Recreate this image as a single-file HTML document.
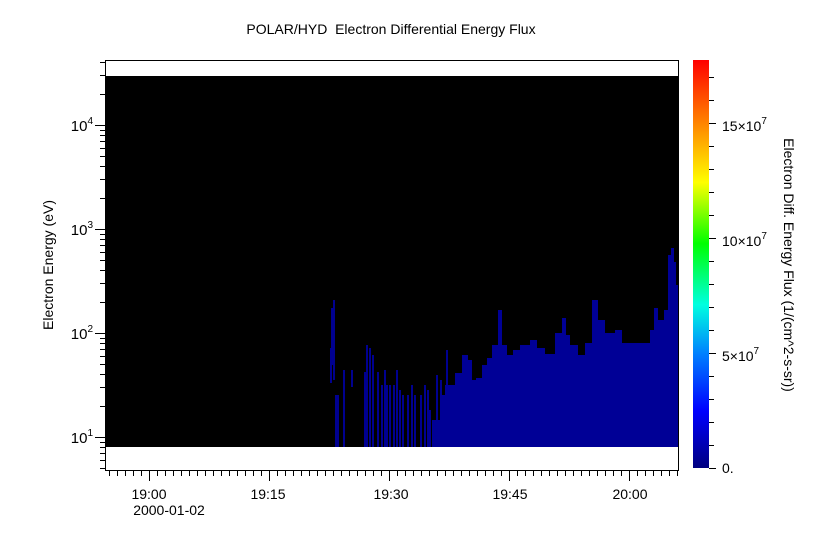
<!DOCTYPE html>
<html><head><meta charset="utf-8"><style>
html,body{margin:0;padding:0;background:#fff;}
svg{display:block;font-family:"Liberation Sans",sans-serif;}
</style></head><body>
<svg id="s" width="828" height="544" xmlns="http://www.w3.org/2000/svg">
<defs>
<linearGradient id="cb" x1="0" y1="1" x2="0" y2="0">
<stop offset="0" stop-color="#000080"/>
<stop offset="0.14" stop-color="#0000ff"/>
<stop offset="0.28" stop-color="#0080ff"/>
<stop offset="0.4" stop-color="#00ffe0"/>
<stop offset="0.55" stop-color="#00ff00"/>
<stop offset="0.7" stop-color="#ffff00"/>
<stop offset="0.85" stop-color="#ff8000"/>
<stop offset="1" stop-color="#ff0000"/>
</linearGradient>
</defs>
<text x="391" y="34" font-size="14" text-anchor="middle">POLAR/HYD&#160; Electron Differential Energy Flux</text>
<rect x="105" y="76" width="573" height="371" fill="#000"/>
<g id="bars" fill="#000090"></g>
<path fill="#000096" d="M432,447 L432,420 L440,420 L440,395 L445,395 L445,385 L455,385 L455,373 L462,373 L462,355 L468,355 L468,360 L472,360 L472,380 L476,380 L476,378 L482,378 L482,365 L487,365 L487,358 L492,358 L492,345 L498,345 L498,310 L502,310 L502,345 L507,345 L507,355 L513,355 L513,350 L520,350 L520,345 L530,345 L530,340 L537,340 L537,348 L545,348 L545,354 L555,354 L555,333 L562,333 L562,318 L566,318 L566,335 L570,335 L570,345 L578,345 L578,355 L585,355 L585,343 L592,343 L592,300 L598,300 L598,320 L605,320 L605,333 L615,333 L615,330 L622,330 L622,343 L650,343 L650,330 L654,330 L654,308 L658,308 L658,320 L664,320 L664,310 L668,310 L668,255 L671,255 L671,248 L674,248 L674,262 L676,262 L676,285 L678,285 L678,447 Z"/>
<g id="ax" stroke="#000" fill="none" stroke-width="1"></g>
<rect x="105.5" y="60.5" width="573" height="410" fill="none" stroke="#000"/>
<text x="149" y="499" font-size="14" text-anchor="middle">19:00</text>
<text x="268" y="499" font-size="14" text-anchor="middle">19:15</text>
<text x="391" y="499" font-size="14" text-anchor="middle">19:30</text>
<text x="510" y="499" font-size="14" text-anchor="middle">19:45</text>
<text x="630" y="499" font-size="14" text-anchor="middle">20:00</text>
<text x="169" y="515" font-size="14" text-anchor="middle">2000-01-02</text>
<g font-size="15" text-anchor="end">
<text x="93" y="131">10<tspan font-size="10" dy="-7">4</tspan></text>
<text x="93" y="235">10<tspan font-size="10" dy="-7">3</tspan></text>
<text x="93" y="339">10<tspan font-size="10" dy="-7">2</tspan></text>
<text x="93" y="443">10<tspan font-size="10" dy="-7">1</tspan></text>
</g>
<text transform="translate(53,265) rotate(-90)" font-size="14" text-anchor="middle">Electron Energy (eV)</text>
<rect x="693" y="60" width="16" height="408" fill="url(#cb)"/>
<g font-size="14">
<text x="722" y="473">0.</text>
<text x="722" y="361">5×10<tspan font-size="10" dy="-7">7</tspan></text>
<text x="722" y="246">10×10<tspan font-size="10" dy="-7">7</tspan></text>
<text x="722" y="131">15×10<tspan font-size="10" dy="-7">7</tspan></text>
</g>
<text transform="translate(784,265) rotate(90)" font-size="14" text-anchor="middle">Electron Diff. Energy Flux (1/(cm^2-s-sr))</text>
</svg>
<script>
var ns="http://www.w3.org/2000/svg",ax=document.getElementById('ax'),bars=document.getElementById('bars');
function L(x1,y1,x2,y2){var l=document.createElementNS(ns,'line');l.setAttribute('x1',x1);l.setAttribute('y1',y1);l.setAttribute('x2',x2);l.setAttribute('y2',y2);ax.appendChild(l);}
for(var d=0;d<5;d++){var yb=437+104-d*104;for(var k=1;k<10;k++){var y=yb-104*Math.log10(k);if(y<60||y>470)continue;y=Math.round(y)+0.5;L(k==1?95:100,y,105,y);}}
var pm=120/15;for(var m=-5;m<=66;m++){var x=149+m*pm;if(x<105||x>679)continue;x=Math.round(x)+0.5;L(x,470,x,m%15==0?481:476);}
for(var i=0;i<=17;i++){var y=Math.round(468-i*23)+0.5;L(709,y,i%5==0?716:714,y);}
var sb=[[330,348,383],[331,308,365],[333,300,380],[335,395,447],[337,395,447],[343,370,447],[351,370,387],[364,372,447],[366,345,447],[369,348,447],[372,355,447],[377,372,447],[381,385,447],[384,370,447],[386,385,447],[389,385,447],[393,385,447],[396,370,447],[399,390,447],[402,395,447],[407,395,447],[411,385,447],[414,395,447],[420,395,447],[424,385,447],[427,390,447],[429,410,447],[436,375,447],[440,380,447],[446,350,447]];
sb.forEach(function(b){var r=document.createElementNS(ns,'rect');r.setAttribute('x',b[0]);r.setAttribute('y',b[1]);r.setAttribute('width',2);r.setAttribute('height',b[2]-b[1]);bars.appendChild(r);});
</script>
</body></html>
